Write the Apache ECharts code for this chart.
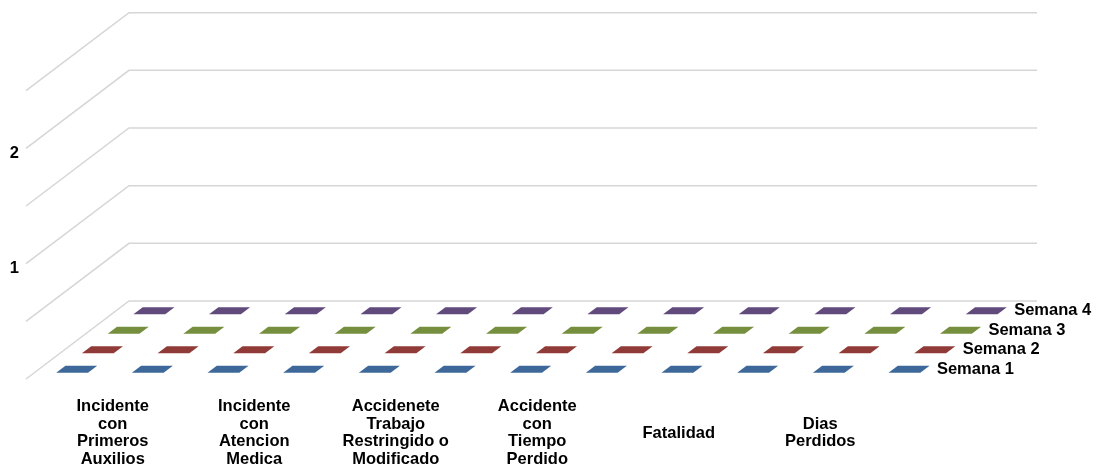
<!DOCTYPE html>
<html>
<head>
<meta charset="utf-8">
<title>Semanas</title>
<script src="https://cdn.jsdelivr.net/npm/echarts@6/dist/echarts.min.js"></script>
<style>
  html, body { margin: 0; padding: 0; background: #fff; }
  #chart { width: 1102px; height: 470px; }
</style>
</head>
<body>
<div id="chart"></div>
<script>
// Category names as they are printed under the floor
const categories = [
  'Incidente\ncon\nPrimeros\nAuxilios',
  'Incidente\ncon\nAtencion\nMedica',
  'Accidenete\nTrabajo\nRestringido o\nModificado',
  'Accidente\ncon\nTiempo\nPerdido',
  'Fatalidad',
  'Dias\nPerdidos'
];

// One row of bars per week (front row first)
const seriesNames = ['Semana 1', 'Semana 2', 'Semana 3', 'Semana 4'];
const semana1 = [0, 0, 0, 0, 0, 0, 0, 0, 0, 0, 0, 0];
const semana2 = [0, 0, 0, 0, 0, 0, 0, 0, 0, 0, 0, 0];
const semana3 = [0, 0, 0, 0, 0, 0, 0, 0, 0, 0, 0, 0];
const semana4 = [0, 0, 0, 0, 0, 0, 0, 0, 0, 0, 0, 0];

// Value axis
const yMin = 0;
const yMax = 2.5;
const yStep = 0.5;

// ---- layout and style ----
const FLOOR = { left: 26, right: 168, top: 90.7, bottom: 91 };   // front plane
const DEPTH = { x: 103, y: 78 };                                // front -> back wall offset
const LABEL_GRID = { left: 42, right: 211, top: 90.7, bottom: 91 };
const FONT = '"Liberation Sans", Arial, sans-serif';
const TEXT_SIZE = 16.5;
const faceColors = [
  { top: '#3E6899', front: '#4F81BD', side: '#355A86' },
  { top: '#913B38', front: '#C0504D', side: '#7E3230' },
  { top: '#768F3E', front: '#9BBB59', side: '#657C34' },
  { top: '#614B7D', front: '#8064A2', side: '#533F6B' }
];
const rowValues = [semana1, semana2, semana3, semana4];
const rows = seriesNames.length;
const BAR_WIDTH = 0.42;   // share of a category slot
const BAR_DEPTH = 0.36;   // share of a row's depth

const slots = semana1.map((_, i) => String(i + 1));

const ticks = [];
for (let v = yMin; v <= yMax + 1e-9; v += yStep) ticks.push(Math.round(v * 1000) / 1000);

function shift(d) {
  return [d * DEPTH.x, -d * DEPTH.y];
}

// Back wall lines and the diagonals running back from the value axis
function renderWall(params, api) {
  const cs = params.coordSys;
  const y = api.coord([0, api.value(1)])[1];
  const x0 = cs.x;
  return {
    type: 'polyline',
    shape: { points: [[x0, y], [x0 + DEPTH.x, y - DEPTH.y], [x0 + DEPTH.x + cs.width, y - DEPTH.y]] },
    style: { stroke: '#d6d6d6', lineWidth: 1.5, fill: null }
  };
}

function makeBarRenderer(k) {
  return function (params, api) {
    const cs = params.coordSys;
    const i = api.value(0);
    const v = api.value(1);
    const base = api.coord([i, 0]);
    const topP = api.coord([i, v]);
    const hw = api.size([1, 0])[0] * BAR_WIDTH / 2;
    const d1 = (k + 0.5 - BAR_DEPTH / 2) / rows;
    const d2 = (k + 0.5 + BAR_DEPTH / 2) / rows;
    const s1 = shift(d1);
    const s2 = shift(d2);
    const xc = base[0];
    const yb = base[1];
    const yt = topP[1];
    const col = faceColors[k];
    const children = [];
    if (yb - yt > 0.5) {
      children.push({
        type: 'polygon',
        shape: { points: [
          [xc - hw + s1[0], yb + s1[1]], [xc + hw + s1[0], yb + s1[1]],
          [xc + hw + s1[0], yt + s1[1]], [xc - hw + s1[0], yt + s1[1]]
        ] },
        style: { fill: col.front }
      });
      children.push({
        type: 'polygon',
        shape: { points: [
          [xc + hw + s1[0], yb + s1[1]], [xc + hw + s2[0], yb + s2[1]],
          [xc + hw + s2[0], yt + s2[1]], [xc + hw + s1[0], yt + s1[1]]
        ] },
        style: { fill: col.side }
      });
    }
    children.push({
      type: 'polygon',
      shape: { points: [
        [xc - hw + s1[0], yt + s1[1]], [xc + hw + s1[0], yt + s1[1]],
        [xc + hw + s2[0], yt + s2[1]], [xc - hw + s2[0], yt + s2[1]]
      ] },
      style: { fill: col.top }
    });
    // row name on the depth axis, at the right end of the row
    if (params.dataIndex === params.dataInsideLength - 1) {
      const sm = shift((k + 0.5) / rows);
      children.push({
        type: 'text',
        style: {
          text: seriesNames[k],
          x: cs.x + cs.width + sm[0] - 10,
          y: cs.y + cs.height + sm[1],
          fill: '#000',
          fontSize: TEXT_SIZE,
          fontWeight: 'bold',
          fontFamily: FONT,
          align: 'left',
          verticalAlign: 'middle'
        }
      });
    }
    return { type: 'group', children: children };
  };
}

const chart = echarts.init(document.getElementById('chart'), null, { renderer: 'canvas' });

const series = [{
  type: 'custom',
  name: 'walls',
  xAxisIndex: 0,
  yAxisIndex: 0,
  clip: false,
  silent: true,
  z: 1,
  renderItem: renderWall,
  data: ticks.map(v => [0, v])
}];

rowValues.forEach((vals, k) => {
  series.push({
    type: 'custom',
    name: seriesNames[k],
    xAxisIndex: 0,
    yAxisIndex: 0,
    clip: false,
    z: 10 - k,
    renderItem: makeBarRenderer(k),
    data: vals.map((v, i) => [i, v])
  });
});

chart.setOption({
  animation: false,
  backgroundColor: '#ffffff',
  grid: [
    { left: FLOOR.left, right: FLOOR.right, top: FLOOR.top, bottom: FLOOR.bottom },
    { left: LABEL_GRID.left, right: LABEL_GRID.right, top: LABEL_GRID.top, bottom: LABEL_GRID.bottom }
  ],
  xAxis: [
    {
      gridIndex: 0,
      type: 'category',
      data: slots,
      boundaryGap: true,
      axisLine: { show: false },
      axisTick: { show: false },
      axisLabel: { show: false },
      splitLine: { show: false }
    },
    {
      gridIndex: 1,
      type: 'category',
      data: categories,
      boundaryGap: true,
      axisLine: { show: false },
      axisTick: { show: false },
      splitLine: { show: false },
      axisLabel: {
        interval: 0,
        margin: 54,
        color: '#000',
        fontSize: TEXT_SIZE,
        fontWeight: 'bold',
        fontFamily: FONT,
        lineHeight: 17.5,
        align: 'center',
        verticalAlign: 'middle'
      }
    }
  ],
  yAxis: [
    {
      gridIndex: 0,
      type: 'value',
      min: yMin,
      max: yMax,
      interval: yStep,
      axisLine: { show: false },
      axisTick: { show: false },
      splitLine: { show: false },
      axisLabel: {
        margin: 7,
        color: '#000',
        fontSize: TEXT_SIZE,
        fontWeight: 'bold',
        fontFamily: FONT,
        verticalAlign: 'top',
        lineHeight: 10,
        formatter: v => (Number.isInteger(v) && v > 0 ? String(v) : '')
      }
    },
    {
      gridIndex: 1,
      type: 'value',
      show: false
    }
  ],
  series: series
});
</script>
</body>
</html>
